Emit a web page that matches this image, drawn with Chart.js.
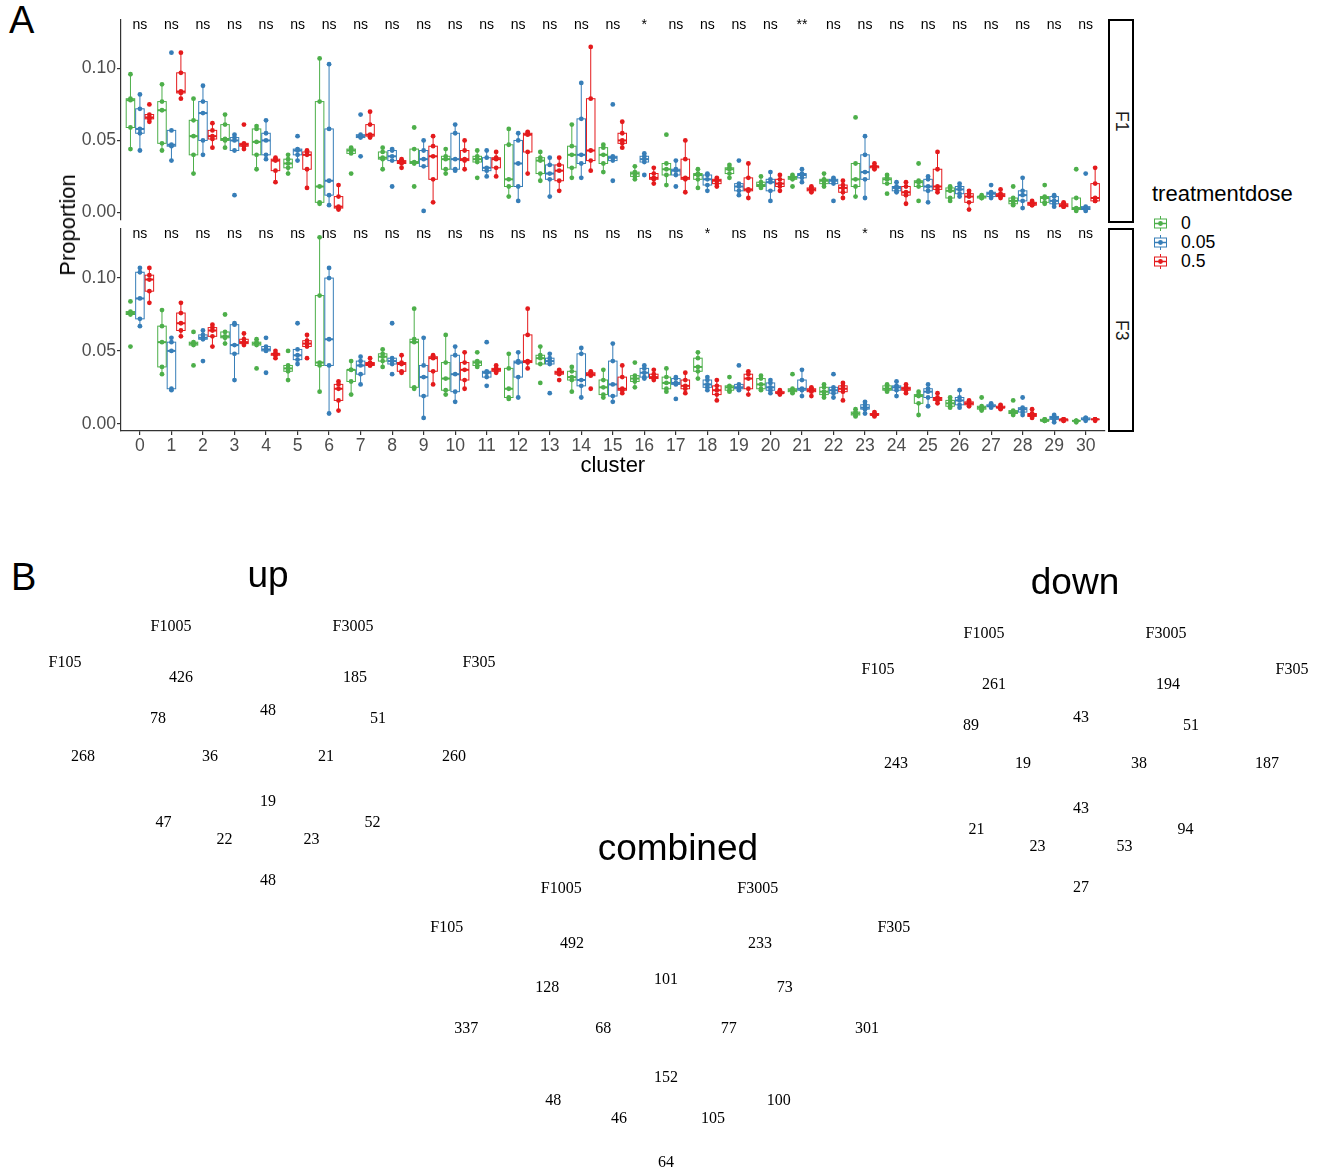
<!DOCTYPE html>
<html>
<head>
<meta charset="utf-8">
<script src="https://cdn.jsdelivr.net/npm/chart.js@4.4.1/dist/chart.umd.min.js"></script>
<style>
  body { margin: 0; background: #fff; width: 1325px; height: 1174px; overflow: hidden; position: relative;
         font-family: "Liberation Sans", Arial, sans-serif; color: #000; }
  .abs { position: absolute; }
  .tag { position: absolute; font-size: 38px; line-height: 1; }
  .strip { position: absolute; left: 1108px; width: 22px; border: 2px solid #000; background: #fff;
           display: flex; align-items: center; justify-content: center; }
  .strip span { writing-mode: vertical-rl; font-size: 17.6px; color: #1a1a1a; }
  .ytitle { position: absolute; left: 68px; top: 225px; font-size: 22px; white-space: nowrap;
            transform: translate(-50%, -50%) rotate(-90deg); }
  .legtitle { position: absolute; left: 1152px; top: 181px; font-size: 22px; line-height: 26px; }
  .legrow { position: absolute; left: 1153px; height: 20px; display: flex; align-items: center; font-size: 17.6px; }
  .legrow svg { margin-right: 13px; }
</style>
</head>
<body>

<div class="tag" style="left:9px;top:1px">A</div>
<div class="tag" style="left:11px;top:558px">B</div>

<div class="abs" style="left:0;top:0;width:1107px;height:222px"><canvas id="f1"></canvas></div>
<div class="abs" style="left:0;top:225px;width:1107px;height:254px"><canvas id="f3"></canvas></div>
<div class="strip" style="top:19px;height:200px"><span>F1</span></div>
<div class="strip" style="top:228px;height:200px"><span>F3</span></div>
<div class="ytitle">Proportion</div>
<div id="legend"></div>

<div class="abs" style="left:18px;top:547px;width:500px;height:380px"><canvas id="vennUp"></canvas></div>
<div class="abs" style="left:831px;top:554px;width:500px;height:380px"><canvas id="vennDown"></canvas></div>
<div class="abs" style="left:396px;top:824px;width:540px;height:351px"><canvas id="vennCombined"></canvas></div>

<script>
// ---- panel A data: proportion per sample, 5 samples per cluster ----
const clusters = ['0','1','2','3','4','5','6','7','8','9','10','11','12','13','14','15',
                  '16','17','18','19','20','21','22','23','24','25','26','27','28','29','30'];
const doseLevels = ['0', '0.05', '0.5'];

const f1Dose0 = [
  [0.096,0.079,0.078,0.059,0.044],[0.089,0.077,0.071,0.048,0.043],[0.079,0.064,0.053,0.040,0.027],
  [0.068,0.061,0.051,0.050,0.045],[0.060,0.058,0.049,0.040,0.030],[0.040,0.037,0.034,0.031,0.027],
  [0.107,0.077,0.018,0.007,0.006],[0.045,0.044,0.043,0.041,0.027],[0.045,0.042,0.038,0.037,0.030],
  [0.059,0.044,0.035,0.034,0.018],[0.044,0.039,0.037,0.030,0.027],[0.043,0.039,0.037,0.035,0.024],
  [0.058,0.047,0.023,0.018,0.011],[0.042,0.038,0.036,0.027,0.022],[0.061,0.046,0.040,0.031,0.024],
  [0.047,0.045,0.040,0.034,0.028],[0.032,0.028,0.027,0.025,0.023],[0.054,0.034,0.030,0.026,0.019],
  [0.030,0.027,0.026,0.023,0.017],[0.033,0.031,0.030,0.027,0.024],[0.025,0.021,0.019,0.018,0.017],
  [0.026,0.025,0.024,0.023,0.018],[0.027,0.023,0.022,0.020,0.018],[0.066,0.034,0.023,0.018,0.011],
  [0.026,0.024,0.023,0.020,0.013],[0.034,0.022,0.021,0.018,0.008],[0.018,0.017,0.015,0.010,0.008],
  [0.012,0.011,0.011,0.010,0.010],[0.018,0.010,0.008,0.006,0.005],[0.019,0.011,0.010,0.007,0.006],
  [0.030,0.010,0.003,0.002,0.001]
];
const f1Dose005 = [
  [0.082,0.072,0.058,0.055,0.043],[0.111,0.057,0.047,0.046,0.036],[0.088,0.077,0.069,0.050,0.040],
  [0.054,0.052,0.050,0.043,0.012],[0.064,0.055,0.050,0.040,0.037],[0.053,0.044,0.043,0.040,0.036],
  [0.103,0.058,0.022,0.012,0.005],[0.068,0.054,0.053,0.052,0.039],[0.044,0.043,0.039,0.036,0.018],
  [0.050,0.043,0.037,0.032,0.001],[0.061,0.055,0.037,0.030,0.029],[0.043,0.038,0.031,0.029,0.025],
  [0.055,0.050,0.034,0.018,0.008],[0.038,0.033,0.027,0.023,0.011],[0.090,0.065,0.040,0.034,0.024],
  [0.075,0.039,0.038,0.036,0.022],[0.041,0.039,0.037,0.035,0.026],[0.036,0.030,0.029,0.026,0.018],
  [0.027,0.026,0.023,0.019,0.015],[0.036,0.020,0.018,0.015,0.012],[0.028,0.023,0.021,0.015,0.008],
  [0.030,0.027,0.026,0.024,0.021],[0.024,0.023,0.022,0.020,0.008],[0.053,0.040,0.028,0.023,0.010],
  [0.021,0.018,0.017,0.015,0.014],[0.025,0.023,0.018,0.015,0.007],[0.020,0.018,0.016,0.013,0.011],
  [0.019,0.014,0.013,0.011,0.010],[0.024,0.015,0.012,0.008,0.003],[0.012,0.011,0.008,0.006,0.004],
  [0.027,0.004,0.003,0.002,0.001]
];
const f1Dose05 = [
  [0.075,0.068,0.066,0.065,0.063],[0.111,0.097,0.084,0.083,0.079],[0.062,0.057,0.053,0.051,0.045],
  [0.061,0.048,0.047,0.046,0.044],[0.038,0.037,0.036,0.029,0.021],[0.043,0.042,0.040,0.030,0.017],
  [0.019,0.011,0.004,0.003,0.002],[0.070,0.061,0.054,0.053,0.052],[0.037,0.036,0.035,0.034,0.031],
  [0.053,0.046,0.039,0.023,0.007],[0.050,0.043,0.037,0.036,0.030],[0.042,0.038,0.037,0.031,0.025],
  [0.056,0.055,0.054,0.042,0.027],[0.038,0.033,0.029,0.022,0.015],[0.115,0.079,0.043,0.036,0.029],
  [0.063,0.055,0.050,0.048,0.045],[0.031,0.027,0.024,0.023,0.020],[0.050,0.037,0.024,0.023,0.014],
  [0.024,0.023,0.022,0.020,0.018],[0.034,0.024,0.016,0.015,0.010],[0.026,0.023,0.020,0.018,0.015],
  [0.018,0.017,0.016,0.015,0.014],[0.022,0.019,0.017,0.014,0.010],[0.034,0.032,0.032,0.031,0.030],
  [0.021,0.018,0.014,0.012,0.006],[0.042,0.030,0.018,0.016,0.014],[0.015,0.013,0.011,0.007,0.002],
  [0.016,0.013,0.012,0.011,0.010],[0.008,0.007,0.006,0.005,0.005],[0.007,0.006,0.005,0.004,0.004],
  [0.031,0.020,0.010,0.008,0.008]
];

const f3Dose0 = [
  [0.084,0.077,0.076,0.075,0.053],[0.078,0.067,0.056,0.039,0.034],[0.063,0.056,0.055,0.054,0.040],
  [0.075,0.063,0.060,0.059,0.055],[0.058,0.056,0.055,0.054,0.038],[0.050,0.040,0.038,0.036,0.030],
  [0.128,0.088,0.042,0.040,0.022],[0.043,0.037,0.037,0.029,0.020],[0.051,0.048,0.046,0.043,0.039],
  [0.079,0.058,0.056,0.025,0.024],[0.061,0.042,0.031,0.023,0.020],[0.049,0.043,0.042,0.040,0.039],
  [0.048,0.038,0.024,0.018,0.017],[0.053,0.047,0.045,0.041,0.028],[0.039,0.036,0.032,0.030,0.022],
  [0.037,0.030,0.025,0.020,0.018],[0.042,0.033,0.031,0.029,0.025],[0.038,0.032,0.028,0.024,0.022],
  [0.049,0.045,0.039,0.036,0.031],[0.032,0.026,0.025,0.023,0.022],[0.033,0.031,0.027,0.024,0.023],
  [0.034,0.024,0.023,0.022,0.021],[0.027,0.025,0.022,0.020,0.018],[0.010,0.008,0.007,0.006,0.005],
  [0.027,0.026,0.024,0.023,0.022],[0.022,0.020,0.019,0.014,0.006],[0.018,0.016,0.014,0.012,0.011],
  [0.018,0.012,0.011,0.010,0.009],[0.016,0.009,0.008,0.007,0.006],[0.003,0.003,0.002,0.002,0.002],
  [0.002,0.002,0.002,0.002,0.001]
];
const f3Dose005 = [
  [0.107,0.104,0.086,0.072,0.067],[0.059,0.056,0.050,0.024,0.023],[0.064,0.061,0.059,0.058,0.043],
  [0.069,0.068,0.054,0.048,0.030],[0.059,0.053,0.051,0.050,0.035],[0.069,0.051,0.047,0.044,0.041],
  [0.107,0.100,0.058,0.040,0.007],[0.046,0.043,0.040,0.034,0.027],[0.069,0.045,0.043,0.041,0.034],
  [0.059,0.040,0.032,0.019,0.004],[0.053,0.047,0.034,0.022,0.015],[0.056,0.036,0.035,0.032,0.026],
  [0.049,0.043,0.042,0.032,0.018],[0.048,0.045,0.043,0.041,0.021],[0.052,0.048,0.030,0.026,0.018],
  [0.055,0.043,0.027,0.019,0.015],[0.040,0.038,0.035,0.032,0.031],[0.032,0.031,0.028,0.027,0.017],
  [0.032,0.030,0.027,0.025,0.023],[0.040,0.027,0.025,0.024,0.023],[0.030,0.028,0.025,0.023,0.021],
  [0.037,0.030,0.024,0.023,0.019],[0.034,0.025,0.023,0.021,0.018],[0.015,0.013,0.011,0.010,0.007],
  [0.029,0.026,0.025,0.023,0.019],[0.027,0.024,0.022,0.018,0.012],[0.023,0.018,0.016,0.013,0.011],
  [0.014,0.013,0.012,0.012,0.011],[0.018,0.011,0.010,0.008,0.006],[0.006,0.005,0.004,0.003,0.001],
  [0.004,0.004,0.003,0.003,0.002]
];
const f3Dose05 = [
  [0.107,0.102,0.099,0.091,0.083],[0.083,0.076,0.069,0.064,0.060],[0.068,0.066,0.064,0.060,0.053],
  [0.062,0.058,0.056,0.055,0.054],[0.050,0.048,0.048,0.047,0.045],[0.061,0.057,0.055,0.053,0.045],
  [0.029,0.027,0.024,0.016,0.009],[0.045,0.042,0.041,0.040,0.040],[0.047,0.042,0.041,0.036,0.035],
  [0.047,0.046,0.045,0.036,0.027],[0.049,0.042,0.037,0.030,0.024],[0.040,0.038,0.037,0.036,0.035],
  [0.079,0.061,0.043,0.042,0.038],[0.037,0.036,0.035,0.034,0.030],[0.036,0.035,0.034,0.033,0.024],
  [0.040,0.032,0.024,0.023,0.021],[0.037,0.034,0.032,0.031,0.030],[0.035,0.030,0.026,0.024,0.021],
  [0.030,0.026,0.023,0.020,0.016],[0.036,0.034,0.031,0.024,0.020],[0.023,0.022,0.021,0.021,0.020],
  [0.025,0.024,0.023,0.022,0.019],[0.028,0.026,0.024,0.022,0.016],[0.008,0.007,0.006,0.006,0.005],
  [0.027,0.025,0.024,0.023,0.021],[0.021,0.018,0.017,0.016,0.014],[0.016,0.015,0.014,0.013,0.012],
  [0.013,0.012,0.011,0.011,0.010],[0.010,0.007,0.006,0.005,0.004],[0.003,0.003,0.003,0.002,0.002],
  [0.003,0.003,0.003,0.003,0.002]
];

const f1Signif = ['ns','ns','ns','ns','ns','ns','ns','ns','ns','ns','ns','ns','ns','ns','ns','ns',
                  '*','ns','ns','ns','ns','**','ns','ns','ns','ns','ns','ns','ns','ns','ns'];
const f3Signif = ['ns','ns','ns','ns','ns','ns','ns','ns','ns','ns','ns','ns','ns','ns','ns','ns',
                  'ns','ns','*','ns','ns','ns','ns','*','ns','ns','ns','ns','ns','ns','ns'];
const yTicks = [0, 0.05, 0.10];

// ---- panel B data: DEG overlaps ----
const vennSets = ['F105', 'F1005', 'F3005', 'F305'];
const vennRegions = ['F105', 'F1005', 'F3005', 'F305',
  'F105&F1005', 'F1005&F3005', 'F3005&F305',
  'F105&F1005&F3005', 'F1005&F3005&F305', 'F105&F1005&F3005&F305',
  'F105&F3005', 'F1005&F305', 'F105&F3005&F305', 'F105&F1005&F305', 'F105&F305'];
const upCounts       = [268, 426, 185, 260, 78, 48, 51, 36, 21, 19, 47, 52, 22, 23, 48];
const downCounts     = [243, 261, 194, 187, 89, 43, 51, 19, 38, 43, 21, 94, 23, 53, 27];
const combinedCounts = [337, 492, 233, 301, 128, 101, 73, 68, 77, 152, 48, 100, 46, 105, 64];

// ---- styling / layout ----
const doseColors = ['#4DAF4A', '#377EB8', '#E41A1C'];
const doseDodge = [-0.3, 0, 0.3];
const boxWidth = 0.27;
Chart.defaults.font.family = '"Liberation Sans", Arial, sans-serif';

function quantile(sorted, p) {
  const h = (sorted.length - 1) * p;
  const lo = Math.floor(h);
  const hi = Math.min(lo + 1, sorted.length - 1);
  return sorted[lo] + (h - lo) * (sorted[hi] - sorted[lo]);
}

function boxStats(vals) {
  const s = vals.slice().sort((a, b) => a - b);
  const q1 = quantile(s, 0.25), med = quantile(s, 0.5), q3 = quantile(s, 0.75);
  const iqr = q3 - q1;
  const inside = s.filter(v => v >= q1 - 1.5 * iqr && v <= q3 + 1.5 * iqr);
  return { q1, med, q3, lo: Math.min(...inside), hi: Math.max(...inside) };
}

// boxes under the points, significance labels on top
const facetMarks = {
  id: 'facetMarks',
  beforeDatasetsDraw(chart) {
    const { ctx, scales: { x, y } } = chart;
    const half = (x.getPixelForValue(boxWidth) - x.getPixelForValue(0)) / 2;
    ctx.save();
    chart.data.datasets.forEach(ds => {
      ctx.strokeStyle = ds.backgroundColor;
      ds.groups.forEach((vals, ci) => {
        const s = boxStats(vals);
        const cx = x.getPixelForValue(ci + ds.dodge);
        const y1 = y.getPixelForValue(s.q1), y3 = y.getPixelForValue(s.q3);
        ctx.lineWidth = 1;
        ctx.beginPath();
        ctx.moveTo(cx, y3); ctx.lineTo(cx, y.getPixelForValue(s.hi));
        ctx.moveTo(cx, y1); ctx.lineTo(cx, y.getPixelForValue(s.lo));
        ctx.stroke();
        ctx.strokeRect(cx - half, y3, 2 * half, y1 - y3);
        ctx.lineWidth = 2;
        const ym = y.getPixelForValue(s.med);
        ctx.beginPath(); ctx.moveTo(cx - half, ym); ctx.lineTo(cx + half, ym); ctx.stroke();
      });
    });
    ctx.restore();
  },
  afterDatasetsDraw(chart, args, opts) {
    const { ctx, scales: { x, y } } = chart;
    ctx.save();
    ctx.fillStyle = '#000';
    ctx.font = '14px "Liberation Sans", Arial, sans-serif';
    ctx.textAlign = 'center';
    ctx.textBaseline = 'middle';
    opts.labels.forEach((t, i) => ctx.fillText(t, x.getPixelForValue(i), y.getPixelForValue(opts.labelY)));
    ctx.restore();
  }
};

function facetDatasets(groupsByDose) {
  return groupsByDose.map((groups, d) => ({
    label: doseLevels[d],
    groups: groups,
    dodge: doseDodge[d],
    data: groups.flatMap((vals, ci) => vals.map(v => ({ x: ci + doseDodge[d], y: v }))),
    backgroundColor: doseColors[d],
    borderWidth: 0,
    pointRadius: 2.4,
    pointHoverRadius: 2.4
  }));
}

function facetChart(id, groupsByDose, signif, showX, padTop) {
  return new Chart(document.getElementById(id), {
    type: 'scatter',
    data: { datasets: facetDatasets(groupsByDose) },
    options: {
      animation: false,
      responsive: true,
      maintainAspectRatio: false,
      layout: { padding: { top: padTop, right: 0, bottom: 0, left: 0 } },
      scales: {
        x: {
          type: 'linear', min: -0.6, max: 30.6, display: showX,
          afterBuildTicks: s => { s.ticks = clusters.map((c, i) => ({ value: i })); },
          afterFit: s => {
            if (showX) s.height = 48;
            s.paddingLeft = 0; s.paddingRight = 0;
          },
          ticks: { callback: v => clusters[v], color: '#4d4d4d', font: { size: 17.6 },
                   autoSkip: false, maxRotation: 0, padding: 1 },
          grid: { display: true, drawOnChartArea: false, drawTicks: true, tickLength: 4, color: '#333', lineWidth: 1.2 },
          border: { display: true, color: '#333', width: 1.2 },
          title: { display: true, text: 'cluster', color: '#000', font: { size: 22 }, padding: { top: 0, bottom: 0 } }
        },
        y: {
          min: -0.005, max: 0.1337,
          afterBuildTicks: s => { s.ticks = yTicks.map(v => ({ value: v })); },
          afterFit: s => { s.width = 121; s.paddingTop = 0; s.paddingBottom = 0; },
          ticks: { callback: v => v.toFixed(2), color: '#4d4d4d', font: { size: 17.6 }, padding: 1 },
          grid: { display: true, drawOnChartArea: false, drawTicks: true, tickLength: 4, color: '#333', lineWidth: 1.2 },
          border: { display: true, color: '#333', width: 1.2 }
        }
      },
      plugins: {
        legend: { display: false },
        tooltip: { enabled: false },
        facetMarks: { labels: signif, labelY: 0.130 }
      }
    },
    plugins: [facetMarks]
  });
}

facetChart('f1', [f1Dose0, f1Dose005, f1Dose05], f1Signif, false, 20);
facetChart('f3', [f3Dose0, f3Dose005, f3Dose05], f3Signif, true, 4);

// legend for dose
const legend = document.getElementById('legend');
legend.innerHTML = '<div class="legtitle">treatmentdose</div>' + doseLevels.map((lv, i) => `
  <div class="legrow" style="top:${213 + i * 19}px">
    <svg width="15" height="15" viewBox="0 0 15 15">
      <line x1="7.5" y1="0" x2="7.5" y2="3" stroke="${doseColors[i]}" stroke-width="1"/>
      <line x1="7.5" y1="12" x2="7.5" y2="15" stroke="${doseColors[i]}" stroke-width="1"/>
      <rect x="1.5" y="3" width="12" height="9" fill="#fff" stroke="${doseColors[i]}" stroke-width="1"/>
      <line x1="1.5" y1="7.5" x2="13.5" y2="7.5" stroke="${doseColors[i]}" stroke-width="1.5"/>
      <circle cx="7.5" cy="7.5" r="2.4" fill="${doseColors[i]}"/>
    </svg><span>${lv}</span></div>`).join('');

// ---- Venn diagrams (region label positions of a 4-ellipse layout) ----
const regionPos = [[-1.85, 1.295], [-0.87, 0.51], [0.87, 0.51], [1.86, 1.295],
  [-1.10, 0.92], [0, 0.84], [1.10, 0.92],
  [-0.58, 1.295], [0.58, 1.295], [0, 1.75],
  [-1.045, 1.96], [1.045, 1.96], [-0.435, 2.125], [0.435, 2.125], [0, 2.54]];
const setPos = [[-2.03, 0.36], [-0.97, 0], [0.85, 0], [2.11, 0.36]];

const vennText = {
  id: 'vennText',
  afterDatasetsDraw(chart, args, opts) {
    const { ctx, scales: { x, y } } = chart;
    ctx.save();
    ctx.fillStyle = '#000';
    ctx.textAlign = 'center';
    ctx.textBaseline = 'middle';
    ctx.font = '16px "Liberation Serif", "Times New Roman", serif';
    chart.data.datasets.forEach(ds => ds.data.forEach(p =>
      ctx.fillText(p.label, x.getPixelForValue(p.x), y.getPixelForValue(p.y))));
    ctx.font = '37px "Liberation Sans", Arial, sans-serif';
    ctx.fillText(opts.title, x.getPixelForValue(opts.titleAt[0]), y.getPixelForValue(opts.titleAt[1]));
    ctx.restore();
  }
};

function vennChart(id, counts, title, titleAt, yMin, yMax) {
  return new Chart(document.getElementById(id), {
    type: 'scatter',
    data: {
      datasets: [
        { data: vennRegions.map((r, i) => ({ x: regionPos[i][0], y: regionPos[i][1], label: String(counts[i]) })), pointRadius: 0 },
        { data: vennSets.map((s, i) => ({ x: setPos[i][0], y: setPos[i][1], label: s })), pointRadius: 0 }
      ]
    },
    options: {
      animation: false,
      responsive: true,
      maintainAspectRatio: false,
      layout: { padding: 0 },
      scales: {
        x: { display: false, min: -2.5, max: 2.5 },
        y: { display: false, min: yMin, max: yMax, reverse: true }
      },
      plugins: {
        legend: { display: false },
        tooltip: { enabled: false },
        vennText: { title: title, titleAt: titleAt }
      }
    },
    plugins: [vennText]
  });
}

vennChart('vennUp', upCounts, 'up', [0, -0.5], -0.8, 3.0);
vennChart('vennDown', downCounts, 'down', [-0.06, -0.5], -0.8, 3.0);
vennChart('vennCombined', combinedCounts, 'combined', [0.11, -0.36], -0.6, 2.65);
</script>
</body>
</html>
